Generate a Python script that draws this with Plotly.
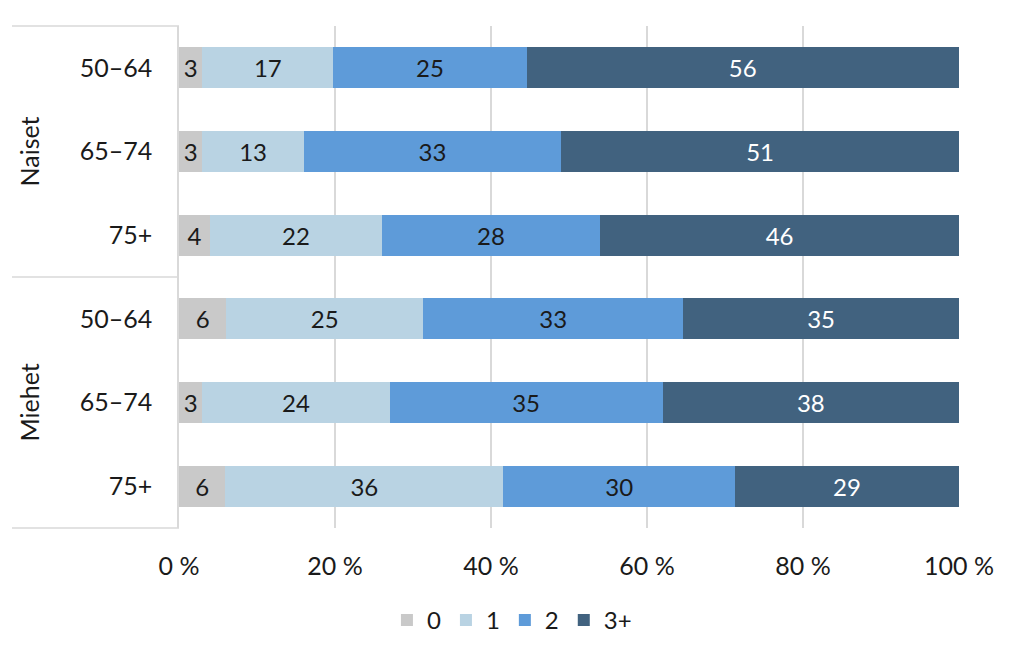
"""Stacked 100 % horizontal bars by sex and age group."""
import plotly.graph_objects as go

# data
groups = ["Naiset", "Miehet"]
age_groups = ["50–64", "65–74", "75+", "50–64", "65–74", "75+"]
series_names = ["0", "1", "2", "3+"]
values = {
    "0": [3, 3, 4, 6, 3, 6],
    "1": [17, 13, 22, 25, 24, 36],
    "2": [25, 33, 28, 33, 35, 30],
    "3+": [56, 51, 46, 35, 38, 29],
}
x_ticks = [0, 20, 40, 60, 80, 100]

colors = {"0": "#C9C9C9", "1": "#B9D3E3", "2": "#5E9BD9", "3+": "#41627F"}
text_colors = {"0": "#1a1a1a", "1": "#1a1a1a", "2": "#1a1a1a", "3+": "#ffffff"}
FONT = "Lato, 'DejaVu Sans', sans-serif"
LINE = "#D9D9D9"

# page body has an 8px margin, so the figure is a bit smaller than the window
W, H = 1016, 650

rows = list(range(len(age_groups)))

fig = go.Figure()
for name in series_names:
    fig.add_trace(
        go.Bar(
            y=rows,
            x=values[name],
            name=name,
            orientation="h",
            width=0.49,
            marker=dict(color=colors[name], line=dict(width=0)),
            text=[str(v) for v in values[name]],
            textposition="inside",
            insidetextanchor="middle",
            textfont=dict(size=24, color=text_colors[name], family=FONT),
            hoverinfo="x+name",
        )
    )

fig.update_layout(
    barmode="stack",
    barnorm="percent",
    width=W,
    height=H,
    paper_bgcolor="white",
    plot_bgcolor="white",
    font=dict(family=FONT, size=25, color="#1a1a1a"),
    margin=dict(l=171, r=65, t=18, b=130, autoexpand=False),
    uniformtext=dict(minsize=24, mode="show"),
    showlegend=True,
    legend=dict(
        orientation="h",
        xref="container",
        yref="container",
        x=0.496,
        xanchor="center",
        y=0.058,
        yanchor="middle",
        font=dict(size=24),
        itemwidth=30,
        traceorder="normal",
    ),
)

fig.update_xaxes(
    range=[0, 100],
    tickvals=x_ticks,
    ticktext=[f"{t} %" for t in x_ticks],
    showgrid=True,
    gridcolor=LINE,
    gridwidth=1.5,
    zeroline=False,
    showline=False,
    ticks="outside",
    ticklen=16,
    tickcolor="rgba(0,0,0,0)",
    tickfont=dict(size=25),
    automargin=False,
    fixedrange=True,
)

fig.update_yaxes(
    tickvals=rows,
    ticktext=age_groups,
    range=[len(rows) - 0.5, -0.5],
    showgrid=False,
    zeroline=False,
    showline=True,
    linecolor=LINE,
    linewidth=1.5,
    ticks="outside",
    ticklen=20,
    tickcolor="rgba(0,0,0,0)",
    tickfont=dict(size=25),
    automargin=False,
    fixedrange=True,
)

# group labels and divider lines on the left category axis
left = -167 / 780
for i, g in enumerate(groups):
    fig.add_annotation(
        text=g,
        xref="paper",
        yref="paper",
        x=-151 / 780,
        y=0.75 - 0.5 * i,
        textangle=-90,
        showarrow=False,
        font=dict(size=25),
        xanchor="center",
        yanchor="middle",
    )
for yy in [1.0, 0.5, 0.0]:
    fig.add_shape(
        type="line",
        xref="paper",
        yref="paper",
        x0=left,
        x1=0,
        y0=yy,
        y1=yy,
        line=dict(color=LINE, width=1.5),
    )

fig.write_html("out.html")
